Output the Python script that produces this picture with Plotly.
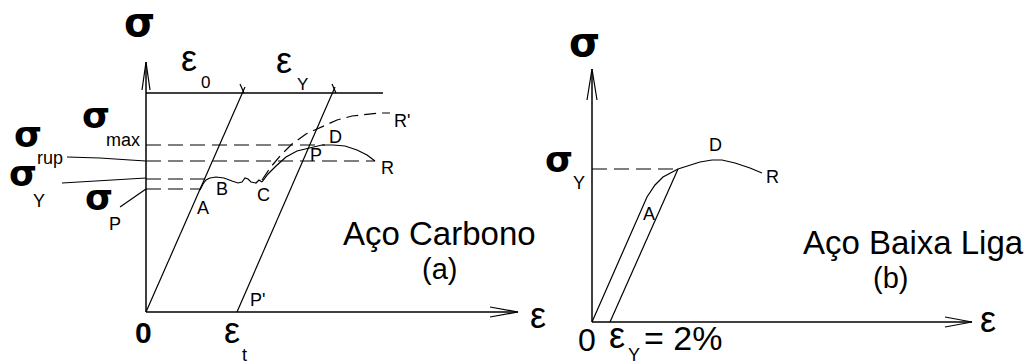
import plotly.graph_objects as go

# ---------------- (a) Aço Carbono ----------------
# axes and reference lines (diagram units: x to the right, y downward)
axis_a_x = [146, 518]
axis_a_y = [312, 312]
axis_a_vx = [146, 146]
axis_a_vy = [312, 62]
top_line_x = [146, 383]
top_line_y = [93, 93]

elastic_1_x = [146, 245]
elastic_1_y = [312, 87]
elastic_2_x = [237, 335]
elastic_2_y = [312, 87]

# stress levels (dashed)
level_names = ["max", "rup", "Y", "P"]
level_y = [145, 161, 179, 189]
level_end = [325, 375, 205, 200]

# leader lines from the level labels to the stress axis
lead_rup_x = [67, 100, 130, 146]
lead_rup_y = [157, 158, 160, 161]
lead_y_x = [62, 100, 130, 146]
lead_y_y = [183, 181, 179, 178]
lead_p_x = [120, 146]
lead_p_y = [207, 189]

# yield plateau A-B-C
plateau_x = [200, 203, 206, 210, 216, 224, 232, 238, 242, 245, 248, 251, 256, 259, 262]
plateau_y = [190, 184, 180, 178, 177, 178, 181, 183, 182, 178, 179, 182, 183, 180, 182]

# hardening C-P-D-R
harden_x = [262, 268, 276, 286, 297, 310, 322, 333, 345, 357, 367, 375]
harden_y = [182, 174, 166, 157, 151, 148, 145, 145, 146, 150, 155, 161]

# reloading branch C-R'
reload_x = [262, 270, 280, 292, 306, 322, 337, 352, 367, 380, 390]
reload_y = [180, 168, 156, 144, 134, 127, 120, 116, 114, 113, 113]

# ---------------- (b) Aço Baixa Liga ----------------
axis_b_x = [592, 972]
axis_b_y = [322, 322]
axis_b_vx = [592, 592]
axis_b_vy = [322, 69]

curve_b_x = [592, 647, 655, 663, 678, 690, 700, 712, 722, 735, 750, 762]
curve_b_y = [322, 197, 185, 177, 169, 165, 162, 160, 160, 163, 168, 173]
unload_b_x = [610, 678]
unload_b_y = [322, 169]
yield_b_x = [592, 678]
yield_b_y = [169, 169]

fig = go.Figure()


def line(xs, ys, width=1.2, dash="solid"):
    fig.add_trace(go.Scatter(x=xs, y=ys, mode="lines", hoverinfo="skip",
                             line=dict(color="black", width=width, dash=dash)))


# (a) drawing
line(axis_a_x, axis_a_y, 1.5)
line(axis_a_vx, axis_a_vy, 1.5)
line([142, 146, 150], [90, 62, 90], 1.2)
line([490, 518, 490], [307, 312, 317], 1.2)
line(top_line_x, top_line_y, 1.5)
line(elastic_1_x, elastic_1_y, 1.2)
line(elastic_2_x, elastic_2_y, 1.2)
line([240, 244], [84, 93], 1.2)
line([332, 336], [84, 93], 1.2)
for ly, le in zip(level_y, level_end):
    line([146, le], [ly, ly], 1.2, "15px,7px")
line(lead_rup_x, lead_rup_y, 1.2)
line(lead_y_x, lead_y_y, 1.2)
line(lead_p_x, lead_p_y, 1.2)
line(plateau_x, plateau_y, 1.2)
line(harden_x, harden_y, 1.2)
line(reload_x, reload_y, 1.2, "12px,6px")

# (b) drawing
line(axis_b_x, axis_b_y, 1.5)
line(axis_b_vx, axis_b_vy, 1.5)
line([587, 592, 597], [100, 69, 100], 1.2)
line([945, 972, 945], [317, 322, 327], 1.2)
line(curve_b_x, curve_b_y, 1.2)
line(unload_b_x, unload_b_y, 1.2)
line(yield_b_x, yield_b_y, 1.2, "15px,7px")

SANS = "Liberation Sans, Arial, sans-serif"
SIGMA = "DejaVu Sans, sans-serif"


def text(x, y, s, size, bold=False, anchor="center", family=SANS):
    fig.add_annotation(x=x, y=y, text=f"<b>{s}</b>" if bold else s, showarrow=False,
                       xanchor=anchor, yanchor="middle",
                       font=dict(family=family, size=size, color="black"))


def sigma(x, y, size):
    text(x, y, "σ", size, True, family=SIGMA)


# (a) labels
sigma(139, 22, 40)
text(189, 58, "ε", 36)
text(205, 82, "0", 17)
text(284, 60, "ε", 36)
text(302, 84, "Y", 17)
sigma(96, 115, 36)
text(123, 140, "max", 18)
sigma(28, 134, 36)
text(50, 158, "rup", 18)
sigma(23, 173, 36)
text(39, 201, "Y", 18)
sigma(99, 197, 36)
text(115, 224, "P", 18)
text(203, 208, "A", 18)
text(222, 189, "B", 18)
text(263, 195, "C", 18)
text(335, 137, "D", 18)
text(316, 155, "P", 18)
text(387, 168, "R", 18)
text(402, 121, "R'", 18)
text(257, 300, "P'", 18)
text(143, 332, "0", 30, True)
text(232, 330, "ε", 36)
text(244, 355, "t", 18)
text(439, 233, "Aço Carbono", 33)
text(439, 269, "(a)", 29)
text(538, 315, "ε", 36)

# (b) labels
sigma(584, 42, 40)
sigma(559, 159, 36)
text(579, 183, "Y", 18)
text(649, 214, "A", 18)
text(715, 145, "D", 18)
text(772, 177, "R", 18)
text(587, 340, "0", 32)
text(617, 335, "ε", 36)
text(634, 355, "Y", 18)
text(642, 338, "= 2%", 34, anchor="left")
text(913, 242, "Aço Baixa Liga", 33)
text(890, 278, "(b)", 29)
text(988, 319, "ε", 36)

fig.update_layout(
    width=1036, height=364, margin=dict(l=0, r=0, t=0, b=0),
    paper_bgcolor="white", plot_bgcolor="white", showlegend=False,
    xaxis=dict(range=[0, 1036], visible=False, fixedrange=True),
    yaxis=dict(range=[364, 0], visible=False, fixedrange=True),
)
fig.write_html("out.html")
